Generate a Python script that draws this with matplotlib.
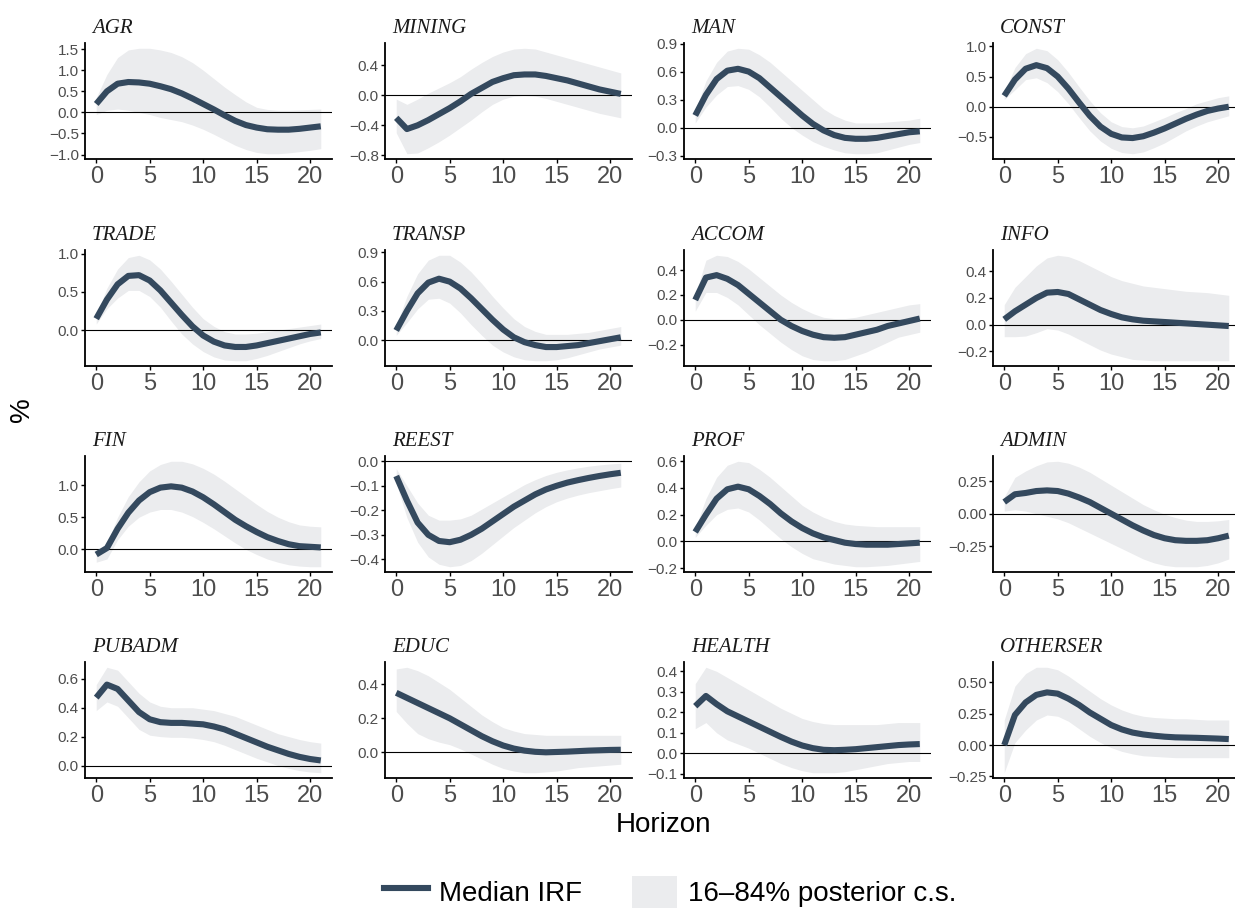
import numpy as np
import matplotlib
matplotlib.use("Agg")
import matplotlib.pyplot as plt
from matplotlib.lines import Line2D
from matplotlib.patches import Patch

horizon = list(range(22))
sectors = ["AGR", "MINING", "MAN", "CONST", "TRADE", "TRANSP", "ACCOM", "INFO",
           "FIN", "REEST", "PROF", "ADMIN", "PUBADM", "EDUC", "HEALTH", "OTHERSER"]

# ---- data (median IRF, 16% and 84% bands) ----
agr_med = [0.2, 0.5, 0.68, 0.72, 0.71, 0.68, 0.62, 0.55, 0.45, 0.33, 0.2, 0.07, -0.07, -0.2, -0.3, -0.36, -0.4, -0.41, -0.41, -0.39, -0.36, -0.33]
agr_hi = [0.35, 0.9, 1.3, 1.48, 1.52, 1.52, 1.48, 1.42, 1.32, 1.18, 1.0, 0.8, 0.6, 0.42, 0.25, 0.12, 0.07, 0.05, 0.05, 0.06, 0.07, 0.08]
agr_lo = [-0.05, 0.05, 0.08, 0.05, 0.0, -0.05, -0.12, -0.17, -0.22, -0.3, -0.4, -0.52, -0.65, -0.78, -0.88, -0.95, -0.98, -0.98, -0.96, -0.93, -0.9, -0.86]

mining_med = [-0.3, -0.45, -0.4, -0.33, -0.25, -0.17, -0.08, 0.02, 0.1, 0.18, 0.23, 0.27, 0.28, 0.28, 0.26, 0.23, 0.2, 0.16, 0.12, 0.08, 0.05, 0.02]
mining_hi = [-0.05, -0.12, -0.05, 0.03, 0.1, 0.17, 0.25, 0.35, 0.44, 0.52, 0.58, 0.62, 0.63, 0.62, 0.58, 0.54, 0.5, 0.46, 0.42, 0.38, 0.34, 0.3]
mining_lo = [-0.5, -0.78, -0.77, -0.7, -0.62, -0.53, -0.43, -0.33, -0.22, -0.12, -0.05, -0.01, 0.0, -0.01, -0.04, -0.08, -0.12, -0.16, -0.2, -0.24, -0.27, -0.3]

man_med = [0.13, 0.35, 0.52, 0.61, 0.63, 0.6, 0.53, 0.43, 0.33, 0.23, 0.13, 0.04, -0.03, -0.08, -0.11, -0.12, -0.12, -0.11, -0.09, -0.07, -0.05, -0.04]
man_hi = [0.18, 0.5, 0.7, 0.82, 0.85, 0.84, 0.78, 0.7, 0.6, 0.5, 0.4, 0.3, 0.2, 0.13, 0.08, 0.05, 0.05, 0.05, 0.06, 0.07, 0.08, 0.1]
man_lo = [0.05, 0.22, 0.35, 0.44, 0.45, 0.41, 0.33, 0.22, 0.1, 0.0, -0.08, -0.15, -0.2, -0.24, -0.27, -0.28, -0.28, -0.27, -0.24, -0.21, -0.18, -0.16]

const_med = [0.18, 0.45, 0.63, 0.69, 0.64, 0.5, 0.3, 0.07, -0.15, -0.33, -0.45, -0.51, -0.52, -0.49, -0.43, -0.36, -0.28, -0.2, -0.13, -0.07, -0.03, 0.0]
const_hi = [0.25, 0.65, 0.88, 0.97, 0.93, 0.78, 0.57, 0.33, 0.1, -0.1, -0.25, -0.33, -0.35, -0.32, -0.25, -0.18, -0.1, -0.03, 0.05, 0.1, 0.15, 0.18]
const_lo = [0.12, 0.28, 0.45, 0.48, 0.4, 0.25, 0.05, -0.18, -0.4, -0.57, -0.69, -0.76, -0.78, -0.75, -0.68, -0.6, -0.5, -0.4, -0.32, -0.25, -0.2, -0.15]

trade_med = [0.15, 0.4, 0.6, 0.71, 0.72, 0.65, 0.52, 0.36, 0.2, 0.05, -0.07, -0.15, -0.2, -0.22, -0.22, -0.2, -0.17, -0.14, -0.11, -0.08, -0.05, -0.03]
trade_hi = [0.2, 0.55, 0.8, 0.95, 0.98, 0.92, 0.8, 0.64, 0.47, 0.3, 0.15, 0.05, -0.02, -0.05, -0.05, -0.04, -0.02, 0.0, 0.02, 0.04, 0.06, 0.08]
trade_lo = [0.08, 0.28, 0.42, 0.52, 0.52, 0.44, 0.3, 0.12, -0.05, -0.18, -0.28, -0.35, -0.39, -0.4, -0.4, -0.37, -0.33, -0.28, -0.23, -0.18, -0.14, -0.11]

transp_med = [0.1, 0.3, 0.48, 0.59, 0.63, 0.6, 0.53, 0.43, 0.32, 0.21, 0.11, 0.03, -0.02, -0.05, -0.07, -0.07, -0.06, -0.05, -0.03, -0.01, 0.01, 0.03]
transp_hi = [0.15, 0.45, 0.68, 0.82, 0.87, 0.87, 0.8, 0.7, 0.58, 0.45, 0.33, 0.22, 0.14, 0.09, 0.06, 0.06, 0.06, 0.07, 0.08, 0.1, 0.12, 0.14]
transp_lo = [0.05, 0.18, 0.32, 0.42, 0.43, 0.38, 0.28, 0.16, 0.05, -0.05, -0.12, -0.17, -0.2, -0.21, -0.21, -0.2, -0.18, -0.15, -0.12, -0.09, -0.07, -0.05]

accom_med = [0.16, 0.34, 0.36, 0.33, 0.28, 0.21, 0.14, 0.07, 0.0, -0.05, -0.09, -0.12, -0.14, -0.145, -0.14, -0.12, -0.1, -0.08, -0.05, -0.03, -0.01, 0.01]
accom_hi = [0.2, 0.48, 0.52, 0.51, 0.47, 0.41, 0.34, 0.27, 0.2, 0.14, 0.09, 0.05, 0.02, 0.01, 0.01, 0.02, 0.04, 0.06, 0.08, 0.1, 0.12, 0.13]
accom_lo = [0.07, 0.22, 0.22, 0.18, 0.12, 0.04, -0.04, -0.11, -0.18, -0.24, -0.29, -0.32, -0.33, -0.33, -0.32, -0.29, -0.26, -0.22, -0.18, -0.14, -0.12, -0.1]

info_med = [0.04, 0.1, 0.15, 0.2, 0.24, 0.245, 0.23, 0.19, 0.15, 0.11, 0.08, 0.055, 0.04, 0.03, 0.025, 0.02, 0.015, 0.01, 0.005, 0.0, -0.005, -0.01]
info_hi = [0.15, 0.28, 0.36, 0.44, 0.5, 0.52, 0.51, 0.48, 0.44, 0.4, 0.36, 0.33, 0.31, 0.29, 0.28, 0.27, 0.26, 0.25, 0.245, 0.24, 0.23, 0.22]
info_lo = [-0.09, -0.09, -0.085, -0.06, -0.03, -0.04, -0.07, -0.11, -0.15, -0.19, -0.22, -0.24, -0.26, -0.265, -0.27, -0.27, -0.27, -0.27, -0.27, -0.27, -0.27, -0.27]

fin_med = [-0.08, 0.02, 0.32, 0.57, 0.76, 0.89, 0.96, 0.98, 0.96, 0.9, 0.81, 0.7, 0.58, 0.46, 0.36, 0.27, 0.19, 0.13, 0.08, 0.05, 0.04, 0.03]
fin_hi = [-0.03, 0.1, 0.5, 0.82, 1.05, 1.22, 1.32, 1.37, 1.37, 1.33, 1.26, 1.17, 1.06, 0.94, 0.82, 0.7, 0.59, 0.5, 0.43, 0.38, 0.36, 0.35]
fin_lo = [-0.2, -0.15, 0.15, 0.36, 0.5, 0.58, 0.62, 0.62, 0.58, 0.51, 0.42, 0.32, 0.21, 0.1, 0.0, -0.08, -0.15, -0.2, -0.24, -0.26, -0.27, -0.27]

reest_med = [-0.06, -0.16, -0.25, -0.3, -0.325, -0.33, -0.32, -0.3, -0.275, -0.245, -0.215, -0.185, -0.16, -0.135, -0.115, -0.1, -0.087, -0.077, -0.068, -0.06, -0.053, -0.047]
reest_hi = [-0.03, -0.1, -0.17, -0.22, -0.24, -0.24, -0.235, -0.22, -0.195, -0.17, -0.145, -0.12, -0.095, -0.075, -0.058, -0.045, -0.035, -0.027, -0.02, -0.015, -0.011, -0.008]
reest_lo = [-0.09, -0.23, -0.33, -0.39, -0.42, -0.43, -0.425, -0.405, -0.375, -0.34, -0.305, -0.27, -0.24, -0.21, -0.185, -0.165, -0.15, -0.138, -0.128, -0.12, -0.112, -0.105]

prof_med = [0.07, 0.2, 0.32, 0.39, 0.41, 0.39, 0.34, 0.28, 0.21, 0.15, 0.1, 0.06, 0.03, 0.01, -0.01, -0.02, -0.025, -0.025, -0.025, -0.02, -0.015, -0.01]
prof_hi = [0.1, 0.32, 0.48, 0.57, 0.6, 0.59, 0.54, 0.48, 0.41, 0.34, 0.27, 0.22, 0.18, 0.15, 0.13, 0.12, 0.115, 0.11, 0.11, 0.11, 0.11, 0.11]
prof_lo = [0.03, 0.12, 0.2, 0.24, 0.25, 0.22, 0.16, 0.09, 0.02, -0.04, -0.09, -0.13, -0.15, -0.17, -0.18, -0.19, -0.19, -0.185, -0.18, -0.17, -0.16, -0.15]

admin_med = [0.09, 0.15, 0.16, 0.175, 0.18, 0.175, 0.155, 0.125, 0.09, 0.045, 0.0, -0.045, -0.09, -0.13, -0.165, -0.19, -0.205, -0.21, -0.21, -0.205, -0.19, -0.17]
admin_hi = [0.13, 0.28, 0.33, 0.37, 0.4, 0.405, 0.39, 0.36, 0.32, 0.27, 0.22, 0.17, 0.12, 0.07, 0.03, -0.005, -0.03, -0.05, -0.06, -0.06, -0.055, -0.045]
admin_lo = [0.02, 0.03, 0.02, 0.0, -0.02, -0.04, -0.07, -0.11, -0.15, -0.19, -0.23, -0.27, -0.31, -0.35, -0.38, -0.4, -0.41, -0.41, -0.41, -0.4, -0.38, -0.35]

pubadm_med = [0.47, 0.56, 0.53, 0.45, 0.37, 0.32, 0.3, 0.295, 0.295, 0.29, 0.285, 0.27, 0.25, 0.22, 0.19, 0.16, 0.13, 0.105, 0.08, 0.06, 0.045, 0.035]
pubadm_hi = [0.56, 0.68, 0.66, 0.58, 0.5, 0.44, 0.41, 0.4, 0.4, 0.4, 0.39, 0.38, 0.36, 0.34, 0.31, 0.28, 0.25, 0.22, 0.2, 0.18, 0.165, 0.155]
pubadm_lo = [0.38, 0.44, 0.41, 0.33, 0.25, 0.21, 0.2, 0.195, 0.195, 0.19, 0.18, 0.165, 0.14, 0.11, 0.08, 0.05, 0.025, 0.0, -0.02, -0.035, -0.045, -0.05]

educ_med = [0.35, 0.32, 0.29, 0.26, 0.23, 0.2, 0.165, 0.13, 0.095, 0.065, 0.04, 0.022, 0.01, 0.003, 0.0, 0.002, 0.004, 0.007, 0.01, 0.012, 0.014, 0.015]
educ_hi = [0.49, 0.5, 0.48, 0.45, 0.41, 0.37, 0.32, 0.27, 0.22, 0.18, 0.145, 0.125, 0.11, 0.105, 0.1, 0.1, 0.1, 0.1, 0.1, 0.1, 0.1, 0.1]
educ_lo = [0.24, 0.17, 0.11, 0.08, 0.06, 0.045, 0.02, -0.01, -0.04, -0.07, -0.095, -0.11, -0.12, -0.12, -0.115, -0.11, -0.1, -0.09, -0.085, -0.08, -0.075, -0.07]

health_med = [0.23, 0.28, 0.24, 0.205, 0.18, 0.155, 0.13, 0.105, 0.08, 0.057, 0.038, 0.025, 0.017, 0.015, 0.017, 0.02, 0.025, 0.03, 0.035, 0.04, 0.043, 0.045]
health_hi = [0.34, 0.42, 0.4, 0.37, 0.34, 0.31, 0.28, 0.25, 0.22, 0.195, 0.17, 0.155, 0.145, 0.14, 0.14, 0.14, 0.14, 0.14, 0.145, 0.15, 0.15, 0.15]
health_lo = [0.12, 0.15, 0.1, 0.065, 0.045, 0.025, 0.0, -0.025, -0.05, -0.07, -0.085, -0.095, -0.095, -0.095, -0.09, -0.08, -0.07, -0.06, -0.05, -0.045, -0.04, -0.04]

otherser_med = [0.0, 0.24, 0.34, 0.4, 0.42, 0.41, 0.37, 0.32, 0.26, 0.21, 0.16, 0.125, 0.1, 0.085, 0.075, 0.067, 0.062, 0.06, 0.058, 0.055, 0.052, 0.048]
otherser_hi = [0.2, 0.47, 0.57, 0.62, 0.62, 0.6, 0.55, 0.49, 0.43, 0.37, 0.32, 0.28, 0.25, 0.23, 0.22, 0.215, 0.21, 0.21, 0.205, 0.2, 0.2, 0.2]
otherser_lo = [-0.22, 0.02, 0.12, 0.2, 0.24, 0.23, 0.19, 0.13, 0.07, 0.02, -0.02, -0.05, -0.07, -0.085, -0.09, -0.095, -0.1, -0.1, -0.1, -0.1, -0.1, -0.1]

# y tick labels per panel
yticks = {
    "AGR": [-1.0, -0.5, 0.0, 0.5, 1.0, 1.5],
    "MINING": [-0.8, -0.4, 0.0, 0.4],
    "MAN": [-0.3, 0.0, 0.3, 0.6, 0.9],
    "CONST": [-0.5, 0.0, 0.5, 1.0],
    "TRADE": [0.0, 0.5, 1.0],
    "TRANSP": [0.0, 0.3, 0.6, 0.9],
    "ACCOM": [-0.2, 0.0, 0.2, 0.4],
    "INFO": [-0.2, 0.0, 0.2, 0.4],
    "FIN": [0.0, 0.5, 1.0],
    "REEST": [-0.4, -0.3, -0.2, -0.1, 0.0],
    "PROF": [-0.2, 0.0, 0.2, 0.4, 0.6],
    "ADMIN": [-0.25, 0.0, 0.25],
    "PUBADM": [0.0, 0.2, 0.4, 0.6],
    "EDUC": [0.0, 0.2, 0.4],
    "HEALTH": [-0.1, 0.0, 0.1, 0.2, 0.3, 0.4],
    "OTHERSER": [-0.25, 0.0, 0.25, 0.50],
}
ydec = {"ADMIN": 2, "OTHERSER": 2}
xticks = [0, 5, 10, 15, 20]

series = {
    "AGR": (agr_med, agr_lo, agr_hi), "MINING": (mining_med, mining_lo, mining_hi),
    "MAN": (man_med, man_lo, man_hi), "CONST": (const_med, const_lo, const_hi),
    "TRADE": (trade_med, trade_lo, trade_hi), "TRANSP": (transp_med, transp_lo, transp_hi),
    "ACCOM": (accom_med, accom_lo, accom_hi), "INFO": (info_med, info_lo, info_hi),
    "FIN": (fin_med, fin_lo, fin_hi), "REEST": (reest_med, reest_lo, reest_hi),
    "PROF": (prof_med, prof_lo, prof_hi), "ADMIN": (admin_med, admin_lo, admin_hi),
    "PUBADM": (pubadm_med, pubadm_lo, pubadm_hi), "EDUC": (educ_med, educ_lo, educ_hi),
    "HEALTH": (health_med, health_lo, health_hi), "OTHERSER": (otherser_med, otherser_lo, otherser_hi),
}

LINE = "#34495E"
BAND = "#EBECEE"
TICKC = "#4D4D4D"

W, H = 1235, 909
fig = plt.figure(figsize=(W / 100, H / 100), dpi=100)
plt.rcParams["font.family"] = ["Liberation Sans", "DejaVu Sans"]

col_left = [85, 385, 684, 993]
row_top = [43, 250, 456, 662]
pw, ph = 247, 116

for i, name in enumerate(sectors):
    r, c = divmod(i, 4)
    ax = fig.add_axes([col_left[c] / W, 1 - (row_top[r] + ph) / H, pw / W, ph / H])
    med, lo, hi = (np.array(v) for v in series[name])
    ax.fill_between(horizon, lo, hi, color=BAND, linewidth=0, zorder=1)
    ax.axhline(0, color="black", linewidth=0.8, zorder=2)
    ax.plot(horizon, med, color=LINE, linewidth=4.4, zorder=3, solid_capstyle="butt")
    ymin = min(lo.min(), 0.0)
    ymax = max(hi.max(), 0.0)
    pad = 0.05 * (ymax - ymin)
    ax.set_ylim(ymin - pad, ymax + pad)
    ax.set_xlim(-1.05, 22.05)
    ax.set_xticks(xticks)
    ax.set_xticklabels([str(t) for t in xticks])
    d = ydec.get(name, 1)
    ax.set_yticks(yticks[name])
    ax.set_yticklabels([f"{v:.{d}f}".replace("-", "\u2212") for v in yticks[name]])
    for s in ["top", "right"]:
        ax.spines[s].set_visible(False)
    for s in ["left", "bottom"]:
        ax.spines[s].set_linewidth(1.3)
        ax.spines[s].set_color("black")
    ax.tick_params(axis="y", labelsize=11, colors="black", labelcolor=TICKC, length=3, width=1, pad=1.5)
    ax.tick_params(axis="x", labelsize=17, colors="black", labelcolor=TICKC, length=3, width=1, pad=2)
    ax.annotate(name, xy=(0, 1), xycoords="axes fraction", xytext=(5, 7), textcoords="offset points",
                fontsize=15, fontstyle="italic", family=["Liberation Serif", "DejaVu Serif"],
                ha="left", va="baseline", color="#1A1A1A")

fig.text(663 / W, 1 - 825 / H, "Horizon", ha="center", va="center", fontsize=20)
fig.text(22 / W, 1 - 410 / H, "%", ha="center", va="center", fontsize=20, rotation=90)

handles = [Line2D([0], [0], color=LINE, linewidth=4.4),
           Patch(facecolor=BAND, edgecolor="none")]
fig.legend(handles, ["Median IRF", "16\u201384% posterior c.s."], loc="center",
           bbox_to_anchor=(670 / W, 1 - 892 / H), ncol=2, frameon=False, fontsize=20,
           handlelength=1.6, handleheight=1.45, handletextpad=0.4, columnspacing=1.8,
           borderaxespad=0, borderpad=0)

fig.savefig("out.png", dpi=100)
